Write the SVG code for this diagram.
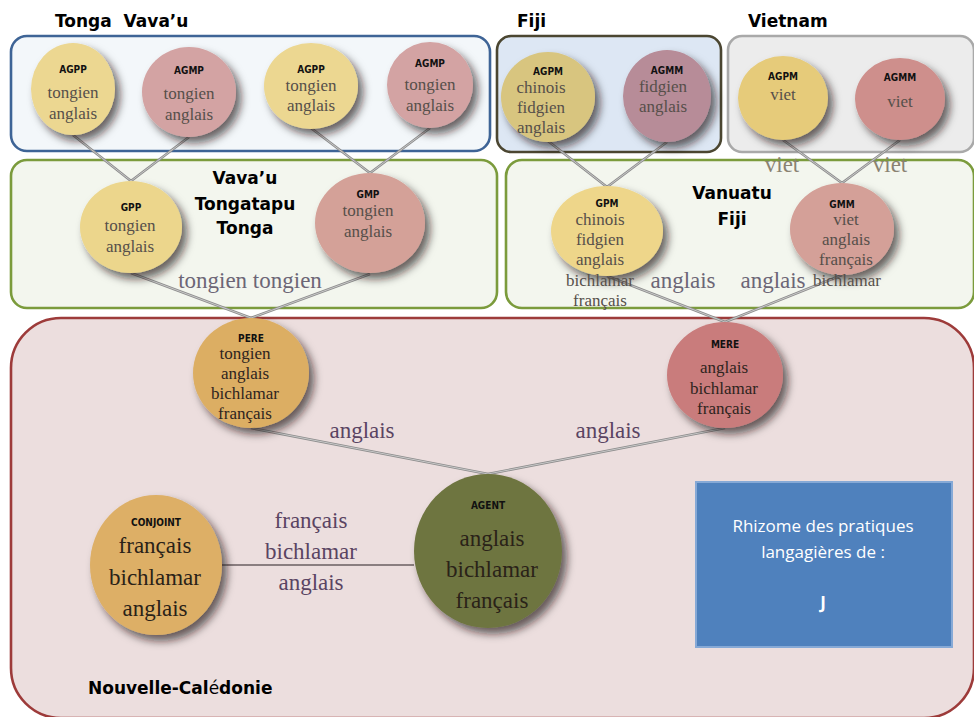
<svg xmlns="http://www.w3.org/2000/svg" xmlns:xlink="http://www.w3.org/1999/xlink" width="974" height="717" viewBox="0 0 974 717">
<style>
.title{font-family:"DejaVu Sans",sans-serif;font-weight:bold;font-size:17px;fill:#000;white-space:pre}
.lbl{font-family:"DejaVu Sans Condensed","DejaVu Sans",sans-serif;font-weight:bold;font-size:10px;fill:#111;text-anchor:middle}
.t{font-family:"Liberation Serif",serif;font-size:17px;fill:#564f4a;text-anchor:middle}
.td{font-family:"Liberation Serif",serif;font-size:17px;fill:#2e2420;text-anchor:middle}
.tb{font-family:"Liberation Serif",serif;font-size:23px;fill:#2a2218;text-anchor:middle}
.el{font-family:"Liberation Serif",serif;font-size:23px;fill:#5a4462;text-anchor:middle}
.eg{font-family:"Liberation Serif",serif;font-size:23px;fill:#6c6676;text-anchor:middle}
.ev{font-family:"Liberation Serif",serif;font-size:23px;fill:#8a8272;text-anchor:middle}
.box{stroke-width:2.6}
.bx{font-family:"Open Sans","Liberation Sans",sans-serif;font-size:17px;fill:#fff;text-anchor:middle}
.node{filter:url(#sh)}
</style>
<defs>
<filter id="sh" x="-30%" y="-30%" width="170%" height="170%">
<feDropShadow dx="5" dy="6" stdDeviation="4" flood-color="#1a1010" flood-opacity="0.65"/>
</filter>
<g id="cl" fill="none">
<line x1="73" y1="135" x2="131" y2="181"/>
<line x1="189" y1="137" x2="131" y2="181"/>
<line x1="311" y1="128" x2="370" y2="173"/>
<line x1="430" y1="128" x2="370" y2="173"/>
<line x1="548" y1="141" x2="607" y2="187"/>
<line x1="667" y1="142" x2="607" y2="187"/>
<line x1="783" y1="140" x2="842" y2="183"/>
<line x1="900" y1="140" x2="842" y2="183"/>
<line x1="131" y1="273" x2="251" y2="318"/>
<line x1="370" y1="274" x2="251" y2="318"/>
<line x1="607" y1="276" x2="725" y2="322"/>
<line x1="842" y1="275" x2="725" y2="322"/>
<line x1="251" y1="428" x2="488" y2="474"/>
<line x1="725" y1="428" x2="488" y2="474"/>
</g>
</defs>

<!-- region boxes -->
<g id="box-tonga">
<rect class="box" x="11" y="36" width="479" height="115" rx="16" fill="#f3f7fa" stroke="#3e6496"/>
<text class="title" x="55" y="27" xml:space="preserve">Tonga  Vava’u</text>
</g>
<g id="box-fiji">
<rect class="box" x="497" y="36" width="224" height="116" rx="14" fill="#dde7f4" stroke="#4b4631"/>
<text class="title" x="517" y="27">Fiji</text>
</g>
<g id="box-vietnam">
<rect class="box" x="728" y="36" width="246" height="116" rx="14" fill="#ececec" stroke="#a9a9a9"/>
<text class="title" x="748" y="27">Vietnam</text>
</g>
<g id="box-tongatapu">
<rect class="box" x="11" y="160" width="486" height="148" rx="16" fill="#f3f6ee" stroke="#7b9b3c"/>
<text class="title" x="245" y="184" text-anchor="middle">Vava’u</text>
<text class="title" x="245" y="210" text-anchor="middle">Tongatapu</text>
<text class="title" x="245" y="234" text-anchor="middle">Tonga</text>
</g>
<g id="box-vanuatu">
<rect class="box" x="506" y="160" width="468" height="148" rx="16" fill="#f3f6ee" stroke="#7b9b3c"/>
<text class="title" x="732" y="199" text-anchor="middle">Vanuatu</text>
<text class="title" x="732" y="225" text-anchor="middle">Fiji</text>
</g>
<g id="box-nc">
<rect class="box" x="11" y="318" width="963" height="400" rx="50" fill="#ecdede" stroke="#9d3b3a"/>
<text class="title" x="88" y="694">Nouvelle-Cal<tspan font-weight="normal">é</tspan>donie</text>
</g>

<!-- connectors -->
<g id="connectors">
<use xlink:href="#cl" href="#cl" stroke="#8d8d8d" stroke-width="2.6"/>
<use xlink:href="#cl" href="#cl" stroke="#e2e2e2" stroke-width="0.7"/>
<line x1="222" y1="565" x2="414" y2="565" stroke="#8a7e80" stroke-width="2"/>
<text class="eg" x="250" y="288">tongien tongien</text>
<text class="ev" x="782" y="172">viet</text>
<text class="ev" x="890" y="172">viet</text>
<text class="eg" x="683" y="288">anglais</text>
<text class="eg" x="773" y="288">anglais</text>
<text class="el" x="362" y="438">anglais</text>
<text class="el" x="608" y="438">anglais</text>
<text class="el" x="311" y="528">français</text>
<text class="el" x="311" y="559">bichlamar</text>
<text class="el" x="311" y="590">anglais</text>
</g>

<!-- nodes -->
<g id="agpp-1">
<ellipse class="node" cx="73" cy="89" rx="42" ry="46" fill="#ecd791"/>
<text class="lbl" x="73" y="73">AGPP</text>
<text class="t" x="73" y="98">tongien</text>
<text class="t" x="73" y="119">anglais</text>
</g>
<g id="agmp-1">
<ellipse class="node" cx="189" cy="92" rx="47" ry="45" fill="#d3a3a3"/>
<text class="lbl" x="189" y="74">AGMP</text>
<text class="t" x="189" y="99">tongien</text>
<text class="t" x="189" y="120">anglais</text>
</g>
<g id="agpp-2">
<ellipse class="node" cx="311" cy="86" rx="47" ry="43" fill="#ecd791"/>
<text class="lbl" x="311" y="73">AGPP</text>
<text class="t" x="311" y="91">tongien</text>
<text class="t" x="311" y="111">anglais</text>
</g>
<g id="agmp-2">
<ellipse class="node" cx="430" cy="85" rx="43" ry="43" fill="#d3a3a3"/>
<text class="lbl" x="430" y="67">AGMP</text>
<text class="t" x="430" y="90">tongien</text>
<text class="t" x="430" y="111">anglais</text>
</g>
<g id="agpm-fiji">
<ellipse class="node" cx="548" cy="97" rx="47" ry="45" fill="#d8c57f"/>
<text class="lbl" x="548" y="75">AGPM</text>
<text class="t" x="541" y="93" fill="#3e3830">chinois</text>
<text class="t" x="541" y="113" fill="#3e3830">fidgien</text>
<text class="t" x="541" y="133" fill="#3e3830">anglais</text>
</g>
<g id="agmm-fiji">
<ellipse class="node" cx="667" cy="96" rx="44" ry="46" fill="#b78c98"/>
<text class="lbl" x="667" y="74">AGMM</text>
<text class="t" x="663" y="92" fill="#3e3338">fidgien</text>
<text class="t" x="663" y="112" fill="#3e3338">anglais</text>
</g>
<g id="agpm-vietnam">
<ellipse class="node" cx="783" cy="98" rx="45" ry="42" fill="#e6cb7a"/>
<text class="lbl" x="783" y="80">AGPM</text>
<text class="t" x="783" y="100">viet</text>
</g>
<g id="agmm-vietnam">
<ellipse class="node" cx="900" cy="99" rx="45" ry="41" fill="#ce8f8c"/>
<text class="lbl" x="900" y="81">AGMM</text>
<text class="t" x="900" y="107">viet</text>
</g>
<g id="gpp">
<ellipse class="node" cx="131" cy="227" rx="51" ry="46" fill="#ecd68c"/>
<text class="lbl" x="131" y="211">GPP</text>
<text class="t" x="130" y="231">tongien</text>
<text class="t" x="130" y="252">anglais</text>
</g>
<g id="gmp">
<ellipse class="node" cx="370" cy="223" rx="55" ry="50" fill="#d4a198"/>
<text class="lbl" x="368" y="198">GMP</text>
<text class="t" x="368" y="216">tongien</text>
<text class="t" x="368" y="237">anglais</text>
</g>
<g id="gpm">
<ellipse class="node" cx="607" cy="231" rx="56" ry="45" fill="#eed68a"/>
<text class="lbl" x="607" y="207">GPM</text>
<text class="t" x="600" y="225">chinois</text>
<text class="t" x="600" y="245">fidgien</text>
<text class="t" x="600" y="265">anglais</text>
<text class="t" x="600" y="286" font-size="15">bichlamar</text>
<text class="t" x="600" y="306" font-size="15">français</text>
</g>
<g id="gmm">
<ellipse class="node" cx="842" cy="229" rx="52" ry="46" fill="#d4a098"/>
<text class="lbl" x="842" y="208">GMM</text>
<text class="t" x="846" y="225">viet</text>
<text class="t" x="846" y="245">anglais</text>
<text class="t" x="846" y="265">français</text>
<text class="t" x="847" y="286" font-size="15">bichlamar</text>
</g>
<g id="pere">
<ellipse class="node" cx="251" cy="373" rx="58" ry="55" fill="#dcae63"/>
<text class="lbl" x="251" y="342">PERE</text>
<text class="td" x="245" y="359">tongien</text>
<text class="td" x="245" y="379">anglais</text>
<text class="td" x="245" y="399">bichlamar</text>
<text class="td" x="245" y="419">français</text>
</g>
<g id="mere">
<ellipse class="node" cx="725" cy="375" rx="58" ry="53" fill="#c97c7c"/>
<text class="lbl" x="725" y="348">MERE</text>
<text class="td" x="724" y="373">anglais</text>
<text class="td" x="724" y="394">bichlamar</text>
<text class="td" x="724" y="414">français</text>
</g>
<g id="agent">
<ellipse class="node" cx="488" cy="551" rx="74" ry="77" fill="#6e7440"/>
<text class="lbl" x="488" y="509">AGENT</text>
<text class="tb" x="492" y="546">anglais</text>
<text class="tb" x="492" y="577">bichlamar</text>
<text class="tb" x="492" y="608">français</text>
</g>
<g id="conjoint">
<ellipse class="node" cx="156" cy="565" rx="66" ry="70" fill="#ddaf66"/>
<text class="lbl" x="156" y="526">CONJOINT</text>
<text class="tb" x="155" y="553">français</text>
<text class="tb" x="155" y="585">bichlamar</text>
<text class="tb" x="155" y="616">anglais</text>
</g>
<g id="legend">
<rect x="696" y="482" width="256" height="165" fill="#4f81bd" stroke="#86a9d6" stroke-width="2"/>
<text class="bx" x="823" y="532">Rhizome des pratiques</text>
<text class="bx" x="823" y="558">langagières de :</text>
<text class="bx" x="823" y="609" font-weight="bold">J</text>
</g>
</svg>
